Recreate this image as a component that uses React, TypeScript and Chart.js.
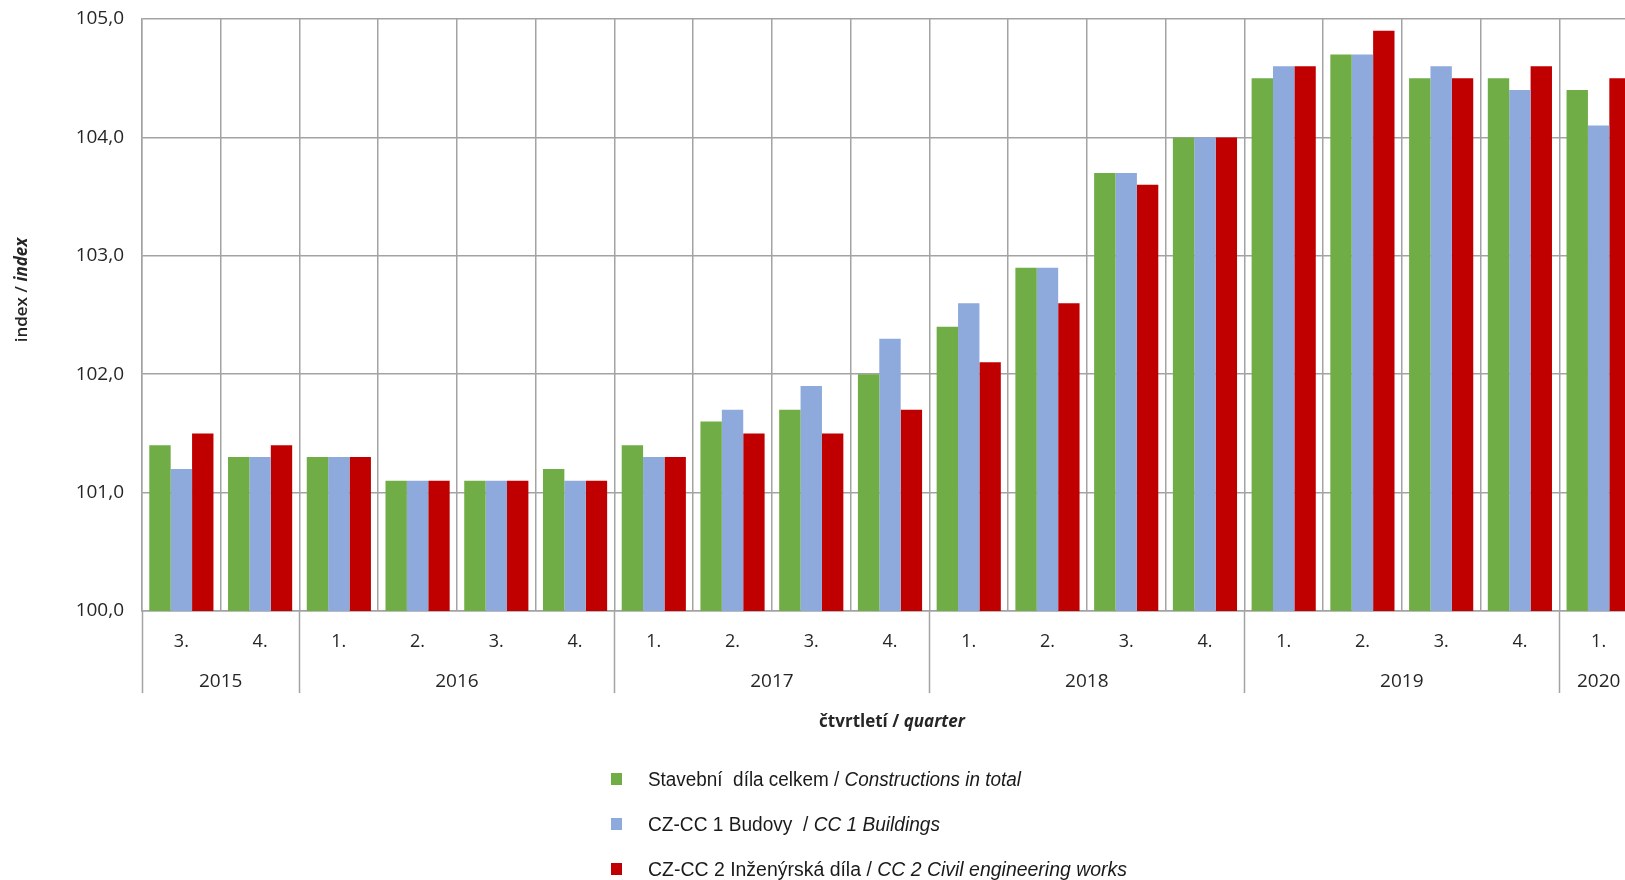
import React, { useEffect, useRef } from "react";
import { Chart, registerables } from "chart.js";

Chart.register(...registerables);

const quarters = ["3.", "4.", "1.", "2.", "3.", "4.", "1.", "2.", "3.", "4.", "1.", "2.", "3.", "4.", "1.", "2.", "3.", "4.", "1."];
const years = ["2015", "2016", "2017", "2018", "2019", "2020"];
const yearSpans = [2, 4, 4, 4, 4, 1];

const totalValues = [101.4, 101.3, 101.3, 101.1, 101.1, 101.2, 101.4, 101.6, 101.7, 102.0, 102.4, 102.9, 103.7, 104.0, 104.5, 104.7, 104.5, 104.5, 104.4];
const buildingValues = [101.2, 101.3, 101.3, 101.1, 101.1, 101.1, 101.3, 101.7, 101.9, 102.3, 102.6, 102.9, 103.7, 104.0, 104.6, 104.7, 104.6, 104.4, 104.1];
const civilValues = [101.5, 101.4, 101.3, 101.1, 101.1, 101.1, 101.3, 101.5, 101.5, 101.7, 102.1, 102.6, 103.6, 104.0, 104.6, 104.9, 104.5, 104.6, 104.5];

const seriesNames: [string, string][] = [
  ["Stavební  díla celkem / ", "Constructions in total"],
  ["CZ-CC 1 Budovy  / ", "CC 1 Buildings"],
  ["CZ-CC 2 Inženýrská díla / ", "CC 2 Civil engineering works"],
];
const seriesColors = ["#70AD47", "#8EA9DB", "#C00000"];

const yMin = 100;
const yMax = 105;
const yStep = 1;

const GRID = "#A3A3A3";
const TXT = "#262626";

const decorPlugin = {
  id: "decor",
  afterDraw(chart: any) {
    const ctx = chart.ctx as CanvasRenderingContext2D;
    const xs = chart.scales.x;
    const area = chart.chartArea;
    const n = quarters.length;
    const cw = (area.right - area.left) / n;

    // year separators and labels
    ctx.save();
    ctx.strokeStyle = GRID;
    ctx.lineWidth = 1.5;
    let idx = 0;
    const bottomY = area.bottom + 82;
    ctx.font = "19px 'Open Sans'";
    ctx.fillStyle = TXT;
    ctx.textAlign = "center";
    ctx.textBaseline = "middle";
    yearSpans.forEach((span, i) => {
      const x0 = xs.getPixelForValue(idx) - cw / 2;
      ctx.beginPath();
      ctx.moveTo(Math.round(x0) + 0.5, area.bottom);
      ctx.lineTo(Math.round(x0) + 0.5, bottomY);
      ctx.stroke();
      const x1 = x0 + span * cw;
      ctx.fillText(years[i], (x0 + x1) / 2, area.bottom + 71);
      idx += span;
    });
    ctx.restore();

    // x axis title
    ctx.save();
    ctx.fillStyle = TXT;
    ctx.textBaseline = "middle";
    const p1 = "čtvrtletí / ";
    const p2 = "quarter";
    ctx.font = "bold 17px 'Open Sans'";
    const w1 = ctx.measureText(p1).width;
    ctx.font = "italic bold 17px 'Open Sans'";
    const w2 = ctx.measureText(p2).width;
    const cx = 892;
    const sx = cx - (w1 + w2) / 2;
    ctx.textAlign = "left";
    ctx.font = "bold 17px 'Open Sans'";
    ctx.fillText(p1, sx, 722);
    ctx.font = "italic bold 17px 'Open Sans'";
    ctx.fillText(p2, sx + w1, 722);
    ctx.restore();

    // y axis title
    ctx.save();
    ctx.translate(22, 290);
    ctx.rotate(-Math.PI / 2);
    ctx.fillStyle = TXT;
    ctx.textBaseline = "middle";
    ctx.textAlign = "left";
    const q1 = "index / ";
    const q2 = "index";
    ctx.font = "600 17px 'Open Sans'";
    const v1 = ctx.measureText(q1).width;
    ctx.font = "italic bold 17px 'Open Sans'";
    const v2 = ctx.measureText(q2).width;
    const s0 = -(v1 + v2) / 2;
    ctx.font = "600 17px 'Open Sans'";
    ctx.fillText(q1, s0, 0);
    ctx.font = "italic bold 17px 'Open Sans'";
    ctx.fillText(q2, s0 + v1, 0);
    ctx.restore();

    // legend
    const legendY = [779, 824, 869];
    const legendEnd = [1021, 940, 1127];
    seriesNames.forEach((parts, i) => {
      const y = legendY[i];
      ctx.save();
      ctx.fillStyle = seriesColors[i];
      ctx.fillRect(611, y - 6, 11, 12);
      ctx.fillStyle = "#1a1a1a";
      ctx.textBaseline = "middle";
      ctx.textAlign = "left";
      ctx.font = "20px 'Liberation Sans'";
      const a = ctx.measureText(parts[0]).width;
      ctx.font = "italic 20px 'Liberation Sans'";
      const b = ctx.measureText(parts[1]).width;
      const target = legendEnd[i] - 648;
      const scale = target / (a + b);
      ctx.translate(648, y);
      ctx.scale(scale, 1);
      ctx.font = "20px 'Liberation Sans'";
      ctx.fillText(parts[0], 0, 1);
      ctx.font = "italic 20px 'Liberation Sans'";
      ctx.fillText(parts[1], a, 1);
      ctx.restore();
    });
  },
};

export default function App() {
  const ref = useRef<HTMLCanvasElement | null>(null);
  useEffect(() => {
    if (!ref.current) return;
    const chart = new Chart(ref.current, {
      type: "bar",
      data: {
        labels: quarters,
        datasets: [
          { label: seriesNames[0].join(""), data: totalValues, backgroundColor: seriesColors[0] },
          { label: seriesNames[1].join(""), data: buildingValues, backgroundColor: seriesColors[1] },
          { label: seriesNames[2].join(""), data: civilValues, backgroundColor: seriesColors[2] },
        ],
      },
      options: {
        responsive: false,
        animation: false,
        devicePixelRatio: 1,
        layout: { padding: { top: 19, right: 7, left: 0, bottom: 0 } },
        datasets: { bar: { categoryPercentage: 0.815, barPercentage: 1.0 } },
        plugins: { legend: { display: false }, tooltip: { enabled: false }, title: { display: false } },
        scales: {
          x: {
            grid: { color: GRID, lineWidth: 1.5, offset: true, drawTicks: false },
            border: { color: GRID, width: 1.5 },
            ticks: {
              color: TXT,
              font: { family: "'Open Sans'", size: 18 },
              padding: 20,
              maxRotation: 0,
              autoSkip: false,
            },
            afterFit(scale: any) {
              scale.height = 269;
              scale.paddingLeft = 0;
              scale.paddingRight = 0;
            },
          },
          y: {
            min: yMin,
            max: yMax,
            grid: { color: GRID, lineWidth: 1.5, drawTicks: false },
            border: { color: GRID, width: 1.5 },
            ticks: {
              stepSize: yStep,
              color: TXT,
              font: { family: "'Open Sans'", size: 19 },
              padding: 18,
              callback: (v: any) => Number(v).toFixed(1).replace(".", ","),
            },
            afterFit(scale: any) {
              scale.width = 142;
              scale.paddingTop = 0;
              scale.paddingBottom = 0;
            },
          },
        },
      },
      plugins: [decorPlugin],
    });
    return () => chart.destroy();
  }, []);
  return (
    <div style={{ position: "fixed", left: 0, top: 0, width: 1625, height: 880, overflow: "hidden", background: "#fff" }}>
      <canvas ref={ref} width={1645} height={880} style={{ width: 1645, height: 880, display: "block" }} />
    </div>
  );
}
